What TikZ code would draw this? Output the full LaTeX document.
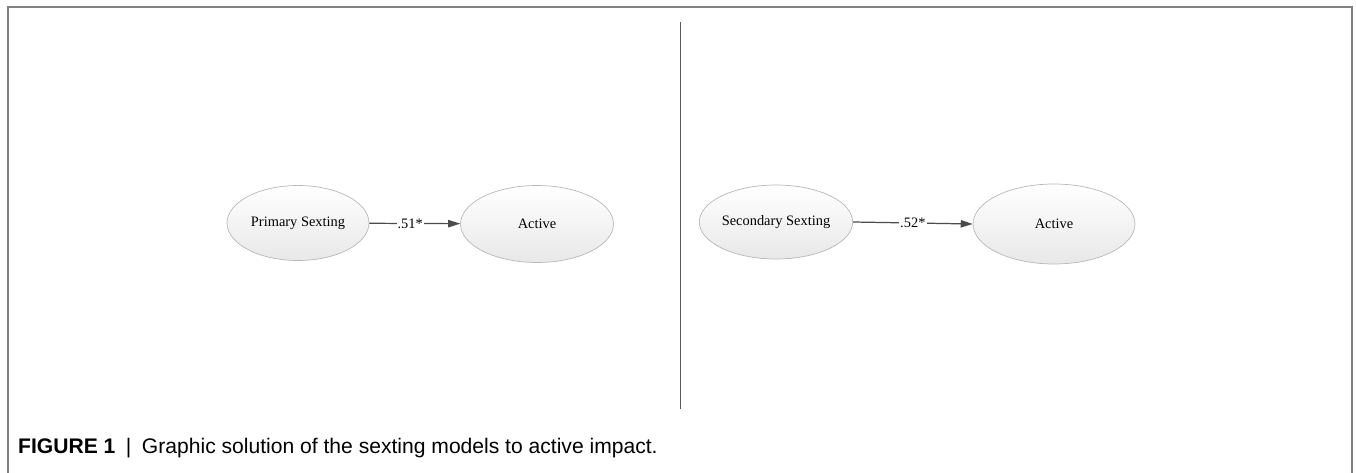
\documentclass[tikz,border=0pt]{standalone}
\usepackage{fontspec}
\setmainfont{Liberation Serif}
\setsansfont{Liberation Sans}
\usetikzlibrary{shapes.geometric}
\usetikzlibrary{arrows.meta}

\begin{document}
\begin{tikzpicture}[x=0.02cm,y=-0.02cm,
  latent/.style={ellipse,draw=black!28,top color=white,bottom color=black!9,
    inner sep=0pt,font=\fontsize{8.2}{9.8}\selectfont},
  effect/.style={draw=black!70,line width=0.7pt,-{Triangle[length=6.8pt,width=4.2pt]}},
  coef/.style={fill=white,inner sep=0.6pt,font=\fontsize{8.2}{9.8}\selectfont}]
\useasboundingbox (0,0) rectangle (1356,473);
\draw[black!50,line width=0.9pt] (8,473)--(8,7)--(1352,7)--(1352,473);
\draw[black!65,line width=0.9pt] (680.5,22)--(680.5,409);
\node[latent,minimum width=2.84cm,minimum height=1.5cm] (prim) at (298,223) {Primary Sexting};
\node[latent,minimum width=3.06cm,minimum height=1.54cm] (act1) at (537,224) {Active};
\node[latent,minimum width=2.82cm,minimum height=1.48cm] (sec) at (776,222) {Secondary Sexting};
\node[latent,minimum width=3.24cm,minimum height=1.6cm] (act2) at (1054,224) {Active};
\draw[effect] (prim) -- node[coef,pos=0.45] {.51*} (act1);
\draw[effect] (sec.east) -- node[coef] {.52*} (act2.west);
\node[anchor=base west,font=\sffamily\fontsize{12}{14}\selectfont] (caption) at (12,453)
  {\textbf{FIGURE 1}\enspace|\enspace Graphic solution of the sexting models to active impact.};
\end{tikzpicture}
\end{document}
